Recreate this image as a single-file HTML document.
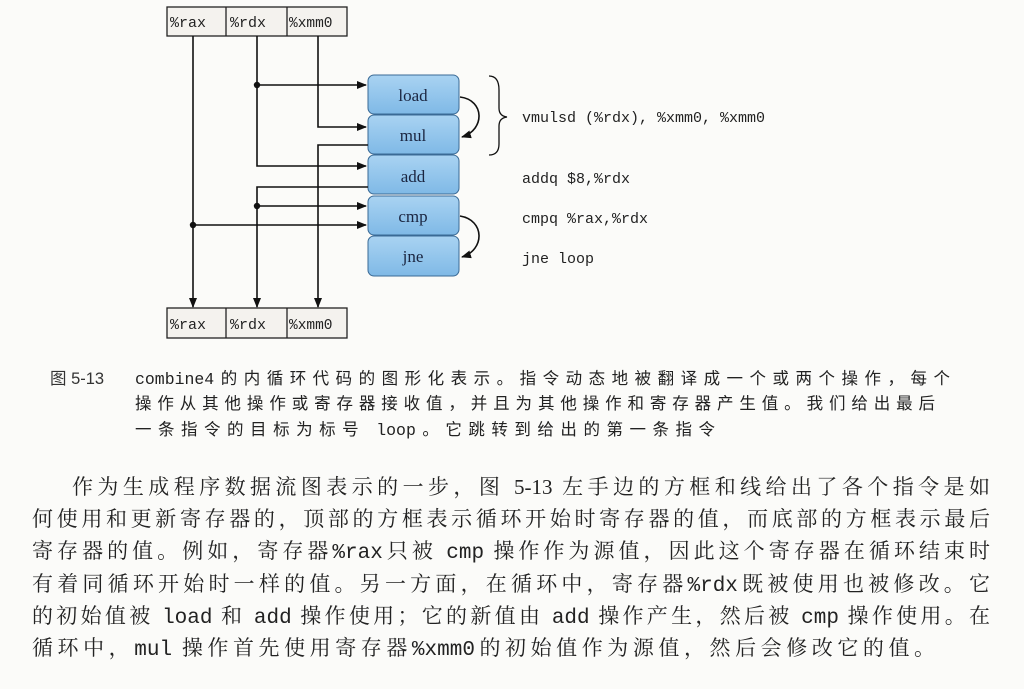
<!DOCTYPE html>
<html><head><meta charset="utf-8"><style>
body{margin:0;width:1024px;height:689px;background:#fbfbf9;position:relative;overflow:hidden;font-family:"Liberation Serif","Noto Serif CJK SC",serif;color:#222}
.l{position:absolute;white-space:nowrap;text-align:justify;text-align-last:justify}
.m{font-family:"Liberation Mono","Noto Sans CJK SC",monospace}
.p{font-size:21px;left:32px;width:958px;height:30px;line-height:30px}
.c{font-size:16.5px;left:135px;height:24px;line-height:24px;font-family:"Liberation Sans","Noto Sans CJK SC",sans-serif}
</style></head><body>
<svg width="1024" height="345" style="position:absolute;left:0;top:0">
<defs><marker id="a" markerWidth="10" markerHeight="8" refX="9" refY="4" orient="auto" markerUnits="userSpaceOnUse"><path d="M0,0 L10,4 L0,8 z" fill="#111"/></marker>
<linearGradient id="g" x1="0" y1="0" x2="0" y2="1"><stop offset="0" stop-color="#a9d3f2"/><stop offset="1" stop-color="#7fb9e6"/></linearGradient></defs>
<g fill="#f4f2ee" stroke="#222" stroke-width="1.3">
<rect x="167" y="7" width="180" height="29"/><line x1="226" y1="7" x2="226" y2="36"/><line x1="287" y1="7" x2="287" y2="36"/>
<rect x="167" y="308" width="180" height="30"/><line x1="226" y1="308" x2="226" y2="338"/><line x1="287" y1="308" x2="287" y2="338"/>
</g>
<g font-family="Liberation Mono" font-size="15" fill="#222">
<text x="170" y="27">%rax</text><text x="230" y="27">%rdx</text><text x="289" y="27" font-size="14.5">%xmm0</text>
<text x="170" y="329">%rax</text><text x="230" y="329">%rdx</text><text x="289" y="329" font-size="14.5">%xmm0</text>
</g>
<g fill="url(#g)" stroke="#3a6a95" stroke-width="1">
<rect x="368" y="75" width="91" height="39" rx="6"/><rect x="368" y="115" width="91" height="39" rx="6"/>
<rect x="368" y="155" width="91" height="39" rx="6"/><rect x="368" y="196" width="91" height="39" rx="6"/>
<rect x="368" y="236" width="91" height="40" rx="6"/>
</g>
<g font-family="Liberation Serif" font-size="17" fill="#1a2540" text-anchor="middle">
<text x="413" y="101">load</text><text x="413" y="141">mul</text><text x="413" y="182">add</text><text x="413" y="222">cmp</text><text x="413" y="262">jne</text>
</g>
<g stroke="#111" stroke-width="1.6" fill="none">
<line x1="193" y1="36" x2="193" y2="307" marker-end="url(#a)"/>
<polyline points="257,36 257,166 366,166" marker-end="url(#a)"/>
<line x1="257" y1="85" x2="366" y2="85" marker-end="url(#a)"/>
<polyline points="318,36 318,127 366,127" marker-end="url(#a)"/>
<polyline points="368,145 318,145 318,307" marker-end="url(#a)"/>
<polyline points="368,187 257,187 257,307" marker-end="url(#a)"/>
<line x1="257" y1="206" x2="366" y2="206" marker-end="url(#a)"/>
<line x1="193" y1="225" x2="366" y2="225" marker-end="url(#a)"/>
<path d="M460,97 C485,100 485,130 462,137" marker-end="url(#a)"/>
<path d="M460,216 C485,220 485,250 462,257" marker-end="url(#a)"/>
<path d="M489,76 Q499,76 499,90 L499,108 Q499,116 507,117 Q499,118 499,126 L499,144 Q499,155 489,155" stroke-width="1.3"/>
</g>
<g fill="#111"><circle cx="257" cy="85" r="3.2"/><circle cx="257" cy="206" r="3.2"/><circle cx="193" cy="225" r="3.2"/></g>
<g font-family="Liberation Mono" font-size="15" fill="#222">
<text x="522" y="122">vmulsd (%rdx), %xmm0, %xmm0</text>
<text x="522" y="183">addq $8,%rdx</text>
<text x="522" y="223">cmpq %rax,%rdx</text>
<text x="522" y="263">jne loop</text>
</g>
</svg>
<div class="l c" style="left:50px;top:367px;width:70px;text-align-last:left;color:#333">图 5-13</div>
<div class="l c" style="top:367px;width:815px"><span class="m">combine4</span>的内循环代码的图形化表示。指令动态地被翻译成一个或两个操作，每个</div>
<div class="l c" style="top:392px;width:800px">操作从其他操作或寄存器接收值，并且为其他操作和寄存器产生值。我们给出最后</div>
<div class="l c" style="top:418px;width:580px">一条指令的目标为标号 <span class="m">loop</span>。它跳转到给出的第一条指令</div>
<div class="l p" style="top:472px;left:72px;width:918px">作为生成程序数据流图表示的一步，图 5-13 左手边的方框和线给出了各个指令是如</div>
<div class="l p" style="top:504px">何使用和更新寄存器的，顶部的方框表示循环开始时寄存器的值，而底部的方框表示最后</div>
<div class="l p" style="top:536px">寄存器的值。例如，寄存器<span class="m">%rax</span>只被 <span class="m">cmp</span> 操作作为源值，因此这个寄存器在循环结束时</div>
<div class="l p" style="top:569px">有着同循环开始时一样的值。另一方面，在循环中，寄存器<span class="m">%rdx</span>既被使用也被修改。它</div>
<div class="l p" style="top:601px">的初始值被 <span class="m">load</span> 和 <span class="m">add</span> 操作使用；它的新值由 <span class="m">add</span> 操作产生，然后被 <span class="m">cmp</span> 操作使用。在</div>
<div class="l p" style="top:633px;width:903px">循环中，<span class="m">mul</span> 操作首先使用寄存器<span class="m">%xmm0</span>的初始值作为源值，然后会修改它的值。</div>
</body></html>
